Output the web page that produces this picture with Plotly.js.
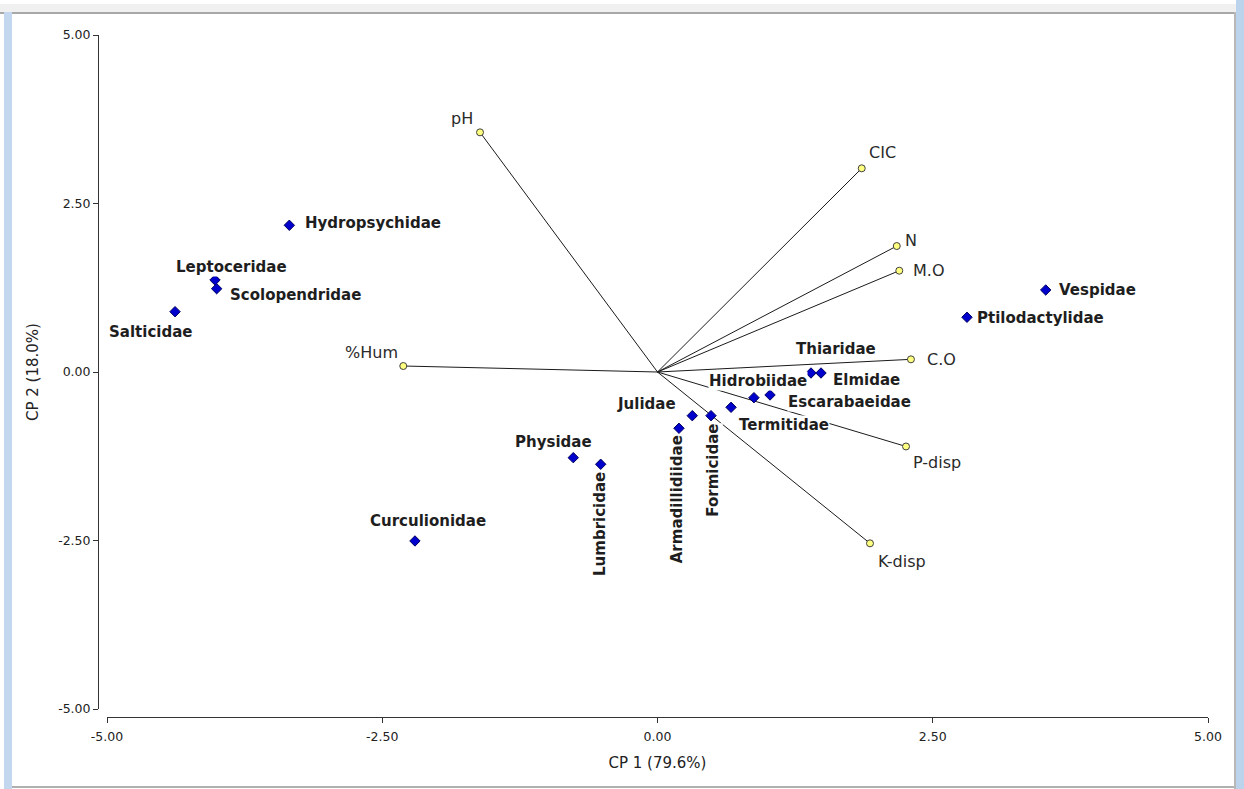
<!DOCTYPE html>
<html>
<head>
<meta charset="utf-8">
<script src="https://cdn.plot.ly/plotly-3.0.1.min.js"></script>
<style>
html,body{margin:0;padding:0;background:#fff;}
#wrap{position:relative;width:1244px;height:789px;overflow:hidden;}
#chart{position:absolute;left:0;top:0;width:1244px;height:789px;}
.chrome{position:absolute;pointer-events:none;}
</style>
</head>
<body>
<div id="wrap">
<div id="chart"></div>
<div class="chrome" style="left:0;top:4px;width:1244px;height:8px;background:#f0f0f0;"></div>
<div class="chrome" style="left:0;top:12px;width:1236px;height:2px;background:#a8a8a8;"></div>
<div class="chrome" style="left:4px;top:12px;width:8px;height:777px;background:#c3d7ee;"></div>
<div class="chrome" style="left:1234px;top:12px;width:2px;height:777px;background:#b8b8b8;"></div>
<div class="chrome" style="left:1236px;top:0;width:8px;height:789px;background:#bcd3ec;"></div>
<div class="chrome" style="left:12px;top:786px;width:1222px;height:2px;background:#b0b0b0;"></div>
</div>
<script>
// Families (species scores)
const families = ["Hydropsychidae","Leptoceridae","Scolopendridae","Salticidae","Curculionidae",
  "Physidae","Lumbricidae","Armadillidiidae","Julidae","Formicidae","Termitidae",
  "Hidrobiidae","Escarabaeidae","Thiaridae","Elmidae","Vespidae","Ptilodactylidae"];
const familyCP1 = [-3.344,-4.019,-4.004,-4.382,-2.203,-0.765,-0.516,0.195,0.316,0.486,0.668,
  0.876,1.022,1.394,1.485,3.526,2.811];
const familyCP2 = [2.177,1.365,1.236,0.895,-2.507,-1.271,-1.369,-0.835,-0.648,-0.648,-0.524,
  -0.381,-0.341,-0.015,-0.015,1.217,0.812];

// Environmental variables (vectors)
const variables = ["pH","CIC","N","M.O","C.O","P-disp","K-disp","%Hum"];
const varCP1 = [-1.612,1.855,2.173,2.196,2.302,2.257,1.930,-2.309];
const varCP2 = [3.556,3.022,1.869,1.503,0.188,-1.105,-2.542,0.089];

// Axis ticks
const tickVals = [-5,-2.5,0,2.5,5];
const tickText = ["-5.00","-2.50","0.00","2.50","5.00"];
const xTitle = "CP 1 (79.6%)";
const yTitle = "CP 2 (18.0%)";

// label placement (pixel shifts from the point: dx, dy-up, angle)
const famLabelPos = [[84,2,0],[16,13,0],[79,-6,0],[-25,-20,0],[13,20,0],[-20,16,0],[0,-60,-90],
  [-2,-71,-90],[-46,12,0],[2,-55,-90],[53,-18,0],[4,17,0],[79,-7,0],[25,24,0],[45,-7,0],[52,0,0],[74,-1,0]];
const varLabelPos = [[-18,14],[21,16],[14,6],[29,0],[31,0],[31,-16],[32,-18],[-32,14]];

// vector lines from origin
const lx = [], ly = [];
variables.forEach((v,i)=>{ lx.push(0, varCP1[i], null); ly.push(0, varCP2[i], null); });

const traces = [
  {x: lx, y: ly, mode: 'lines', type: 'scatter', line: {color: '#1a1a1a', width: 1}, hoverinfo: 'skip', showlegend: false},
  {x: varCP1, y: varCP2, mode: 'markers', type: 'scatter', showlegend: false,
   marker: {symbol: 'circle', size: 7, color: '#ffff80', line: {color: '#404040', width: 1}}},
  {x: familyCP1, y: familyCP2, mode: 'markers', type: 'scatter', showlegend: false,
   marker: {symbol: 'diamond', size: 8, color: '#0000cc', line: {color: '#000060', width: 1}}}
];

const annotations = [];
families.forEach((f,i)=>{
  const p = famLabelPos[i];
  annotations.push({x: familyCP1[i], y: familyCP2[i], text: f, showarrow: false,
    xanchor: 'center', yanchor: 'middle', xshift: p[0], yshift: p[1], textangle: p[2],
    bgcolor: '#ffffff', borderpad: 0,
    font: {family: 'DejaVu Sans', size: 15, color: '#1e1e1e', weight: 'bold'}});
});
variables.forEach((v,i)=>{
  const p = varLabelPos[i];
  annotations.push({x: varCP1[i], y: varCP2[i], text: v, showarrow: false,
    xanchor: 'center', yanchor: 'middle', xshift: p[0], yshift: p[1],
    font: {family: 'DejaVu Sans', size: 16, color: '#2a2a2a'}});
});

const W = 1244, H = 789;
const ml = 98, mr = 36, mt = 35, mb = 72;
const plotW = W - ml - mr, plotH = H - mt - mb;

const axisCommon = {
  range: [-5, 5], tickvals: tickVals, ticktext: tickText, showgrid: false, zeroline: false,
  showline: true, linecolor: '#333', linewidth: 1, ticks: 'outside', ticklen: 5, tickwidth: 1,
  tickcolor: '#333', tickfont: {family: 'DejaVu Sans', size: 12.5, color: '#222'}, anchor: 'free', position: 0
};

const layout = {
  width: W, height: H,
  margin: {l: ml, r: mr, t: mt, b: mb, pad: 0},
  paper_bgcolor: '#ffffff', plot_bgcolor: '#ffffff',
  showlegend: false,
  xaxis: Object.assign({}, axisCommon, {domain: [9/plotW, 1], ticklabelstandoff: 3,
    title: {text: xTitle, font: {family: 'DejaVu Sans', size: 15, color: '#222'}, standoff: 14}}),
  yaxis: Object.assign({}, axisCommon, {domain: [8/plotH, 1],
    title: {text: yTitle, font: {family: 'DejaVu Sans', size: 15, color: '#222'}, standoff: 14}}),
  annotations: annotations
};

Plotly.newPlot('chart', traces, layout, {displayModeBar: false, staticPlot: true});
</script>
</body>
</html>
